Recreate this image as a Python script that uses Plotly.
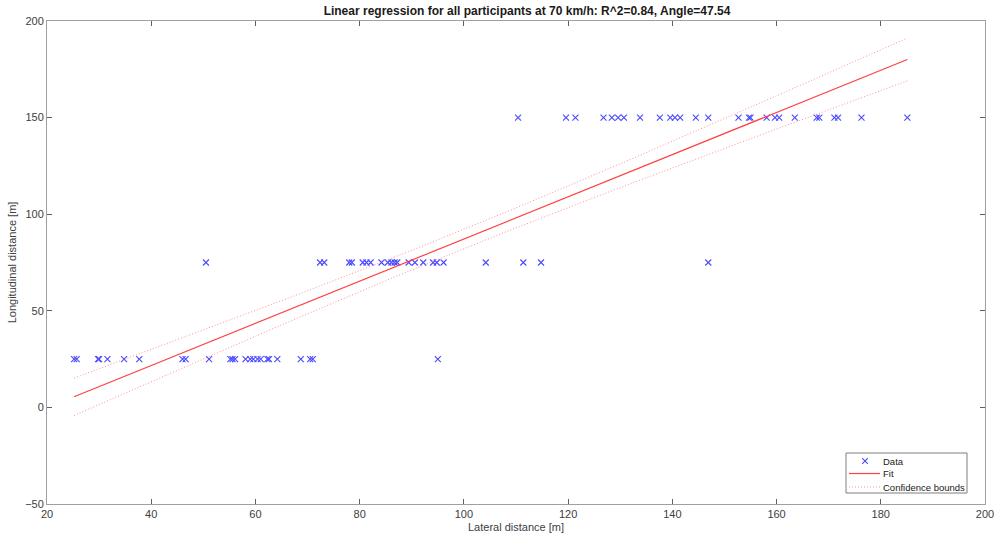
import numpy as np
import plotly.graph_objects as go

# ---- data ----
x_25 = [25.2, 25.7, 29.8, 30.0, 31.6, 34.8, 37.7, 46.0, 46.6, 51.1, 55.2, 55.6, 56.1,
        58.1, 59.0, 59.6, 60.4, 61.0, 62.3, 62.6, 64.2, 68.7, 70.5, 71.0, 95.0]
x_75 = [50.5, 72.4, 73.2, 78.0, 78.5, 80.6, 81.3, 82.1, 84.2, 85.4, 86.1, 86.7, 87.2,
        89.4, 90.6, 92.2, 94.1, 94.8, 96.1, 104.2, 111.4, 114.8, 146.9]
x_150 = [110.4, 119.6, 121.4, 126.8, 128.4, 129.6, 130.7, 133.8, 137.6, 139.6, 140.5,
         141.5, 144.5, 146.9, 152.7, 154.7, 155.0, 158.1, 159.7, 160.5, 163.5, 167.7,
         168.2, 171.1, 171.8, 176.3, 185.1]
y_levels = [25, 75, 150]

x_ticks = [20, 40, 60, 80, 100, 120, 140, 160, 180, 200]
y_ticks = [-50, 0, 50, 100, 150, 200]
t_crit = 1.993  # 95% two-sided t quantile, df ~ 73

legend_labels = ["Data", "Fit", "Confidence bounds"]
title_text = "Linear regression for all participants at 70 km/h: R^2=0.84, Angle=47.54"

# ---- assemble ----
xs = np.array(x_25 + x_75 + x_150)
ys = np.array([y_levels[0]] * len(x_25) + [y_levels[1]] * len(x_75) + [y_levels[2]] * len(x_150), dtype=float)

slope, intercept = np.polyfit(xs, ys, 1)
n = len(xs)
resid = ys - (slope * xs + intercept)
s = np.sqrt(np.sum(resid ** 2) / (n - 2))
xbar = xs.mean()
sxx = np.sum((xs - xbar) ** 2)

xf = np.linspace(xs.min(), xs.max(), 100)
yf = slope * xf + intercept
hw = t_crit * s * np.sqrt(1.0 / n + (xf - xbar) ** 2 / sxx)

font_family = "Liberation Sans, Arial, sans-serif"
tick_col = "#404040"
marker_col = "#4a4aff"
fit_col = "#ff4040"
bound_col = "#ff9090"

fig = go.Figure()
fig.add_trace(go.Scatter(
    x=xs, y=ys, mode="markers", name=legend_labels[0],
    marker=dict(symbol="x-thin-open", size=6, color=marker_col,
                line=dict(width=1.1, color=marker_col)),
))
fig.add_trace(go.Scatter(
    x=xf, y=yf, mode="lines", name=legend_labels[1],
    line=dict(color=fit_col, width=1.2),
))
for sign in (1, -1):
    fig.add_trace(go.Scatter(
        x=xf, y=yf + sign * hw, mode="lines", name=legend_labels[2],
        line=dict(color=bound_col, width=1, dash="1px,2px"),
    ))

# ---- plot-area geometry (pixels) ----
W, H = 994, 540
ML, MR, MT, MB = 47, 9, 21, 36
PW, PH = W - ML - MR, H - MT - MB


def fx(px):
    return (px - ML) / PW


def fy(py):
    return (H - MB - py) / PH


# ---- custom compact legend (MATLAB style) ----
shapes = [dict(type="rect", xref="paper", yref="paper",
               x0=fx(846), x1=fx(967), y0=fy(493), y1=fy(453),
               line=dict(color="#7f7f7f", width=1), fillcolor="white", layer="above")]
annotations = []
row_y = [461, 473.5, 487]
for lbl, ry in zip(legend_labels, row_y):
    annotations.append(dict(xref="paper", yref="paper", x=fx(881), y=fy(ry),
                            xanchor="left", yanchor="middle", text=lbl, showarrow=False,
                            font=dict(family=font_family, size=9.5, color="#1a1a1a")))
# data glyph (x marker)
cx, cy, r = 865, row_y[0], 2.8
for a, b in ((-1, -1), (-1, 1)):
    shapes.append(dict(type="line", xref="paper", yref="paper",
                       x0=fx(cx + a * r), y0=fy(cy + b * r), x1=fx(cx - a * r), y1=fy(cy - b * r),
                       line=dict(color=marker_col, width=1.1), layer="above"))
shapes.append(dict(type="line", xref="paper", yref="paper",
                   x0=fx(849), x1=fx(880), y0=fy(row_y[1]), y1=fy(row_y[1]),
                   line=dict(color=fit_col, width=1.2), layer="above"))
shapes.append(dict(type="line", xref="paper", yref="paper",
                   x0=fx(849), x1=fx(880), y0=fy(row_y[2]), y1=fy(row_y[2]),
                   line=dict(color=bound_col, width=1, dash="1px,2px"), layer="above"))

axis_common = dict(
    showgrid=False, zeroline=False, showline=True, linecolor="#a0a0a0", linewidth=1,
    mirror="ticks", ticks="inside", ticklen=5, tickcolor="#606060", tickwidth=1,
    tickfont=dict(family=font_family, size=11, color=tick_col),
    ticklabeloverflow="allow", automargin=False,
)

fig.update_layout(
    width=W, height=H,
    margin=dict(l=ML, r=MR, t=MT, b=MB, autoexpand=False),
    paper_bgcolor="white", plot_bgcolor="white",
    font=dict(family=font_family, size=11, color=tick_col),
    title=dict(text="<b>" + title_text + "</b>", x=fx(527), xref="paper", xanchor="center",
               y=1 - 11 / H, yanchor="middle",
               font=dict(family=font_family, size=12, color="#1a1a1a")),
    xaxis=dict(range=[20, 200], tickvals=x_ticks,
               title=dict(text="Lateral distance [m]", standoff=4,
                          font=dict(family=font_family, size=11, color=tick_col)),
               **axis_common),
    yaxis=dict(range=[-50, 200], tickvals=y_ticks,
               title=dict(text="Longitudinal distance [m]", standoff=6,
                          font=dict(family=font_family, size=11, color=tick_col)),
               **axis_common),
    showlegend=False,
    shapes=shapes,
    annotations=annotations,
)

fig.write_html("out.html")
